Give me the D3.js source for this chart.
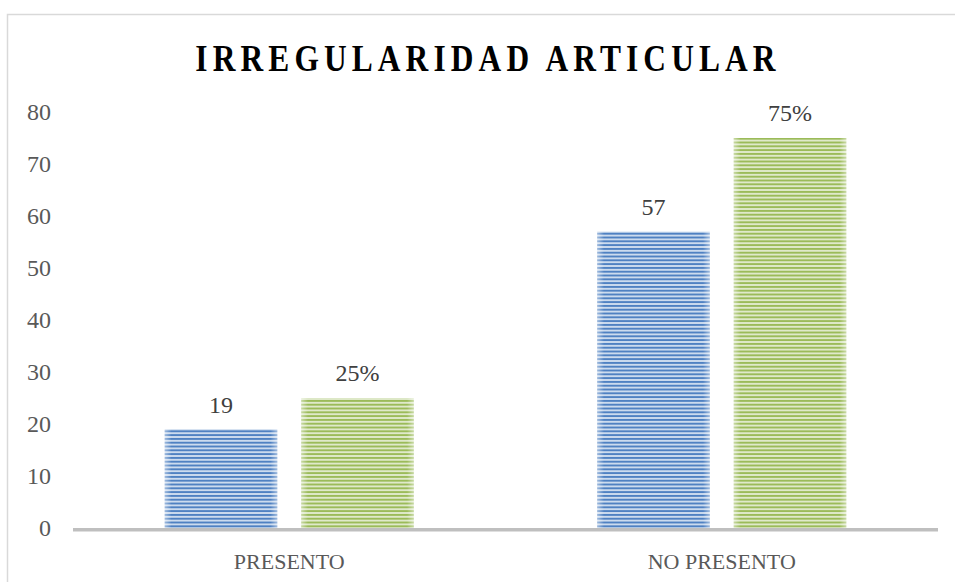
<!DOCTYPE html>
<html>
<head>
<meta charset="utf-8">
<script src="https://cdnjs.cloudflare.com/ajax/libs/d3/7.8.5/d3.min.js"></script>
<style>
    body { margin: 0; background: #fff; }
    svg { display: block; }
    .tick_lbl { font-family: "Liberation Serif", serif; font-size: 24px; fill: #595959; }
    .data_lbl { font-family: "Liberation Serif", serif; font-size: 24px; fill: #404040; }
    .cat_lbl { font-family: "Liberation Serif", serif; font-size: 22px; fill: #595959; }
</style>
</head>
<body>
<svg id="chart" width="955" height="582"></svg>
<script>
// chart data
var categories = ["PRESENTO", "NO PRESENTO"];
var counts = [19, 57];
var percents = [25, 75];
var y_ticks = [0, 10, 20, 30, 40, 50, 60, 70, 80];
var title = "IRREGULARIDAD ARTICULAR";

var pad_left = 73, pad_right = 17, y_bot = 528, y_top = 112;
var W = 955, H = 582;

var svg = d3.select("#chart");
var defs = svg.append("defs");

function stripes(id, light, dark) {
    var p = defs.append("pattern")
        .attr("id", id)
        .attr("patternUnits", "userSpaceOnUse")
        .attr("width", 8).attr("height", 3.8);
    p.append("rect").attr("width", 8).attr("height", 3.8).attr("fill", light);
    p.append("rect").attr("y", 0.9).attr("width", 8).attr("height", 2).attr("fill", dark);
}
stripes("pat_blue", "#d3e0f1", "#4f81c2");
stripes("pat_green", "#e3ecd0", "#9bbb59");

// soft lighter edges on the bars
var glow = defs.append("linearGradient").attr("id", "edge_glow");
glow.append("stop").attr("offset", "0").attr("stop-color", "#fff").attr("stop-opacity", 0.45);
glow.append("stop").attr("offset", "0.06").attr("stop-color", "#fff").attr("stop-opacity", 0);
glow.append("stop").attr("offset", "0.94").attr("stop-color", "#fff").attr("stop-opacity", 0);
glow.append("stop").attr("offset", "1").attr("stop-color", "#fff").attr("stop-opacity", 0.45);

// chart area border (runs off the right and bottom)
svg.append("rect")
    .attr("x", 7.5).attr("y", 14.5)
    .attr("width", 1200).attr("height", 1200)
    .attr("fill", "none")
    .attr("stroke", "#d9d9d9")
    .attr("stroke-width", 1.5);

// title
svg.append("g")
    .attr("transform", "translate(488,71) scale(0.85,1)")
    .append("text")
    .attr("text-anchor", "middle")
    .attr("font-family", "'Liberation Serif', serif")
    .attr("font-weight", "bold")
    .attr("font-size", "37px")
    .attr("letter-spacing", "6px")
    .attr("fill", "#000")
    .text(title);

var y = d3.scaleLinear().domain([0, 80]).range([y_bot, y_top]);
var x0 = d3.scaleBand().domain(categories).range([pad_left, W - pad_right]);
var outer = 91.75;
var x1 = d3.scaleBand().domain(["n", "pct"])
    .range([outer, x0.bandwidth() - outer])
    .paddingInner(0.176);

// y tick labels
svg.selectAll(".tick_lbl")
    .data(y_ticks)
    .enter().append("text")
    .attr("class", "tick_lbl")
    .attr("x", 51)
    .attr("y", function (d) { return y(d); })
    .attr("dy", ".35em")
    .attr("text-anchor", "end")
    .text(function (d) { return d; });

var rows = categories.map(function (c, i) {
    return [
        {cat: c, key: "n", value: counts[i], label: "" + counts[i], fill: "url(#pat_blue)"},
        {cat: c, key: "pct", value: percents[i], label: percents[i] + "%", fill: "url(#pat_green)"}
    ];
});

var group = svg.selectAll("g.grp")
    .data(rows)
    .enter().append("g")
    .attr("class", "grp")
    .attr("transform", function (d, i) {
        return "translate(" + x0(categories[i]) + ",0)";
    });

var bar = group.selectAll("g.bar")
    .data(function (d) { return d; })
    .enter().append("g")
    .attr("class", "bar");

bar.append("rect")
    .attr("x", function (d) { return x1(d.key); })
    .attr("y", function (d) { return y(d.value); })
    .attr("width", x1.bandwidth())
    .attr("height", function (d) { return y(0) - y(d.value); })
    .attr("fill", function (d) { return d.fill; });
bar.append("rect")
    .attr("x", function (d) { return x1(d.key); })
    .attr("y", function (d) { return y(d.value); })
    .attr("width", x1.bandwidth())
    .attr("height", function (d) { return y(0) - y(d.value); })
    .attr("fill", "url(#edge_glow)");

bar.append("text")
    .attr("class", "data_lbl")
    .attr("x", function (d) { return x1(d.key) + x1.bandwidth() / 2; })
    .attr("y", function (d) { return y(d.value) - 25; })
    .attr("dy", ".35em")
    .attr("text-anchor", "middle")
    .text(function (d) { return d.label; });

// category axis
svg.append("line")
    .attr("x1", pad_left).attr("x2", W - pad_right)
    .attr("y1", y(0) + 1.8).attr("y2", y(0) + 1.8)
    .attr("stroke", "#bfbfbf")
    .attr("stroke-width", 3.5);

svg.selectAll(".cat_lbl")
    .data(categories)
    .enter().append("text")
    .attr("class", "cat_lbl")
    .attr("x", function (d) { return x0(d) + x0.bandwidth() / 2; })
    .attr("y", 569)
    .attr("text-anchor", "middle")
    .text(function (d) { return d; });
</script>
</body>
</html>
